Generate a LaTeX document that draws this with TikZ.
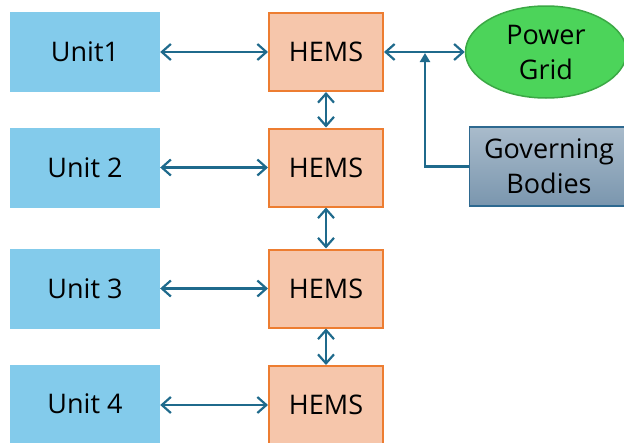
\documentclass[tikz,border=0pt]{standalone}
\usepackage{fontspec}
\setmainfont{Open Sans}
\usetikzlibrary{arrows.meta,shapes.geometric}
\definecolor{unitblue}{HTML}{83CBEB}
\definecolor{hemsfill}{HTML}{F6C6AB}
\definecolor{hemsline}{HTML}{ED7D31}
\definecolor{arrowc}{HTML}{1F6A8C}
\definecolor{gridfill}{HTML}{4CD45A}
\definecolor{gridline}{HTML}{3BA845}
\definecolor{govtop}{HTML}{A9BBCB}
\definecolor{govbot}{HTML}{7A96AE}
\definecolor{govline}{HTML}{2E6990}
\begin{document}
\begin{tikzpicture}[x=1pt,y=-1pt,
  txt/.style={font=\fontsize{27}{35}\selectfont, text=black, align=center, inner sep=0pt},
  unitbox/.style={txt, fill=unitblue, minimum width=150pt, minimum height=80pt},
  hemsbox/.style={txt, fill=hemsfill, draw=hemsline, line width=2pt, minimum width=114pt, minimum height=78pt},
  conn/.style={draw=arrowc, line width=2.2pt, {Straight Barb[length=9pt,width=16pt,line width=2.2pt]}-{Straight Barb[length=9pt,width=16pt,line width=2.2pt]}},
  govconn/.style={draw=arrowc, line width=2.2pt, -{Triangle[length=9pt,width=10pt]}}
]
\useasboundingbox (0,0) rectangle (624,442);
\node[unitbox] (u1) at (85,52) {Unit1};
\node[unitbox] (u2) at (85,167.5) {Unit 2};
\node[unitbox] (u3) at (85,288.5) {Unit 3};
\node[unitbox, minimum height=78pt] (u4) at (85,404) {Unit 4};
\node[hemsbox] (h1) at (326,52) {HEMS};
\node[hemsbox] (h2) at (326,167.5) {HEMS};
\node[hemsbox] (h3) at (326,288.5) {HEMS};
\node[hemsbox] (h4) at (326,405) {HEMS};
\node[txt, ellipse, fill=gridfill, draw=gridline, line width=1.5pt, minimum width=161pt, minimum height=92pt] (pg) at (546,52) {Power\\Grid};
\node[txt, draw=govline, line width=1.5pt, top color=govtop, bottom color=govbot, minimum width=159pt, minimum height=79pt] (gb) at (549,166.5) {Governing\\Bodies};
\draw[conn] (u1.east) -- (h1.west);
\draw[conn] (u2.east) -- (h2.west);
\draw[conn] (u3.east) -- (h3.west);
\draw[conn] (u4.east|-h4.west) -- (h4.west);
\draw[conn] (h1.south) -- (h2.north);
\draw[conn] (h2.south) -- (h3.north);
\draw[conn] (h3.south) -- (h4.north);
\draw[conn] (h1.east) -- (pg.west);
\coordinate (jn) at (425,53);
\draw[govconn] (gb.west) -| (jn);
\end{tikzpicture}
\end{document}
